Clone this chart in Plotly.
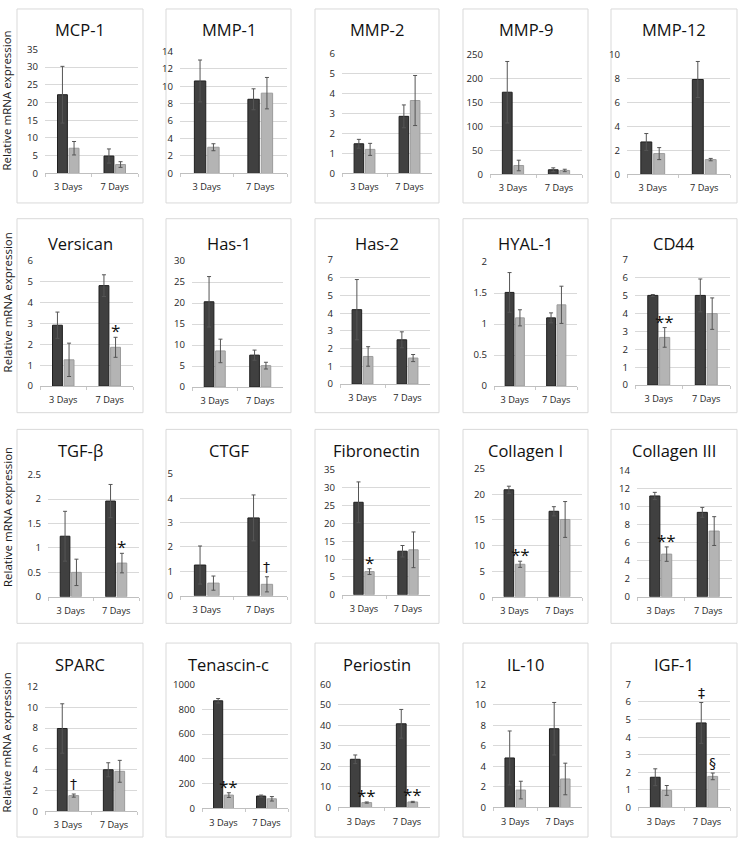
import plotly.graph_objects as go

# ---------------- data ----------------
genes = ["MCP-1", "MMP-1", "MMP-2", "MMP-9", "MMP-12",
         "Versican", "Has-1", "Has-2", "HYAL-1", "CD44",
         "TGF-β", "CTGF", "Fibronectin", "Collagen I", "Collagen III",
         "SPARC", "Tenascin-c", "Periostin", "IL-10", "IGF-1"]
days = ["3 Days", "7 Days"]

dark_mean = [
    [22.2, 4.9], [10.6, 8.5], [1.48, 2.85], [171, 9.6], [2.7, 7.9],
    [2.92, 4.82], [20.3, 7.6], [4.2, 2.5], [1.51, 1.10], [5.02, 5.02],
    [1.24, 1.96], [1.26, 3.19], [25.9, 12.2], [20.9, 16.7], [11.2, 9.38],
    [7.96, 4.0], [868, 100], [23.5, 40.8], [4.83, 7.68], [1.72, 4.81]]
dark_err = [
    [8.0, 2.0], [2.4, 1.2], [0.22, 0.57], [64, 4], [0.7, 1.5],
    [0.63, 0.52], [6.0, 1.2], [1.7, 0.45], [0.32, 0.08], [0.05, 0.92],
    [0.51, 0.34], [0.78, 0.94], [5.7, 1.6], [0.7, 0.9], [0.4, 0.55],
    [2.37, 0.67], [18, 8], [2.1, 7.0], [2.63, 2.56], [0.48, 1.16]]
light_mean = [
    [7.1, 2.5], [3.0, 9.2], [1.2, 3.64], [18.5, 8.2], [1.73, 1.23],
    [1.26, 1.86], [8.6, 5.1], [1.56, 1.47], [1.10, 1.31], [2.67, 4.0],
    [0.50, 0.69], [0.52, 0.47], [6.5, 12.6], [6.35, 15.1], [4.74, 7.3],
    [1.52, 3.85], [108, 78], [2.4, 2.7], [1.7, 2.78], [0.97, 1.77]]
light_err = [
    [1.9, 0.8], [0.4, 1.8], [0.3, 1.25], [11, 2.5], [0.5, 0.1],
    [0.8, 0.48], [2.8, 0.8], [0.55, 0.2], [0.13, 0.3], [0.55, 0.88],
    [0.27, 0.2], [0.29, 0.31], [0.8, 5.0], [0.6, 3.5], [0.8, 1.6],
    [0.15, 1.05], [19, 18], [0.3, 0.3], [0.86, 1.54], [0.28, 0.19]]
y_max = [35, 14, 6, 250, 10, 6, 30, 7, 2, 7, 2.5, 5, 35, 25, 14, 12, 1000, 60, 12, 7]
y_step = [5, 2, 1, 50, 2, 1, 5, 1, 0.5, 1, 0.5, 1, 5, 5, 2, 2, 200, 10, 2, 1]

sig_gene = ["Versican", "CD44", "TGF-β", "CTGF", "Fibronectin", "Collagen I",
            "Collagen III", "SPARC", "Tenascin-c", "Periostin", "Periostin", "IGF-1", "IGF-1"]
sig_day = ["7 Days", "3 Days", "7 Days", "7 Days", "3 Days", "3 Days",
           "3 Days", "3 Days", "3 Days", "3 Days", "7 Days", "7 Days", "7 Days"]
sig_series = ["light", "light", "light", "light", "light", "light",
              "light", "light", "light", "light", "light", "dark", "light"]
sig_text = ["*", "**", "*", "†", "*", "**", "**", "†", "**", "**", "**", "‡", "§"]

y_title = "Relative mRNA expression"

# ---------------- layout geometry (pixels) ----------------
W, H = 738, 845
plot_left = [45, 180, 342, 490, 627, 40, 192, 340, 494, 635, 48, 180, 342, 492, 637, 45, 202, 338, 493, 638]
plot_right = [138, 287, 432, 582, 730, 133, 283, 430, 577, 730, 139, 287, 430, 582, 732, 137, 288, 430, 582, 730]
plot_top = [43, 45, 47, 48, 48, 258, 258, 257, 259, 257, 475, 474, 470, 469, 471, 690, 688, 688, 688, 688]
plot_zero = [169, 169, 169, 170, 170, 385, 386, 383, 385, 384, 599, 598, 597, 599, 599, 817, 814, 813, 813, 813]
box_left = [17, 166, 315, 463, 611]
box_right = [143, 291, 439, 588, 737]
box_top = [2, 215, 429, 646]
box_bottom = [199, 412, 626, 843]
title_y = [23, 240, 450, 668]
ylabel_y = [95, 300, 518, 747]

FONT = "Open Sans"
DARK, DARK_LINE = "#404040", "#1f1f1f"
LIGHT, LIGHT_LINE = "#b4b4b4", "#9c9c9c"
ERR = "#555555"

fig = go.Figure()
layout = dict(width=W, height=H, margin=dict(l=0, r=0, t=0, b=0),
              paper_bgcolor="white", plot_bgcolor="white",
              barmode="group", bargap=0.5, bargroupgap=0.15,
              showlegend=False, font=dict(family=FONT, color="#404040"))
shapes, annotations = [], []

for r in range(4):
    for c in range(5):
        shapes.append(dict(type="rect", xref="paper", yref="paper",
                           x0=box_left[c] / W, x1=box_right[c] / W,
                           y0=1 - box_bottom[r] / H, y1=1 - box_top[r] / H,
                           line=dict(color="#d9d9d9", width=1), fillcolor="rgba(0,0,0,0)", layer="below"))
    annotations.append(dict(text=y_title, textangle=-90, xref="paper", yref="paper",
                            x=7 / W, y=1 - ylabel_y[r] / H, showarrow=False,
                            xanchor="center", yanchor="middle",
                            font=dict(size=11.5, color="#1a1a1a", family=FONT)))

for i, g in enumerate(genes):
    r, c = divmod(i, 5)
    n = "" if i == 0 else str(i + 1)
    xa, ya = "x" + n, "y" + n
    for means, errs, col, lcol, grp in [(dark_mean[i], dark_err[i], DARK, DARK_LINE, "d"),
                                        (light_mean[i], light_err[i], LIGHT, LIGHT_LINE, "l")]:
        fig.add_trace(go.Bar(x=days, y=means, xaxis=xa, yaxis=ya, offsetgroup=grp,
                             marker=dict(color=col, line=dict(color=lcol, width=1)),
                             error_y=dict(type="data", array=errs, color=ERR, thickness=1, width=2),
                             hoverinfo="skip"))
    layout["xaxis" + n] = dict(domain=[plot_left[i] / W, plot_right[i] / W], anchor=ya,
                               type="category", range=[-0.5, 1.5], showgrid=False,
                               showline=True, linecolor="#bfbfbf", linewidth=1,
                               tickson="boundaries", ticks="outside", ticklen=3,
                               tickcolor="#c8c8c8", tickwidth=1,
                               ticklabelstandoff=5,
                               tickfont=dict(size=9.2, color="#262626", family=FONT),
                               fixedrange=True)
    layout["yaxis" + n] = dict(domain=[1 - plot_zero[i] / H, 1 - plot_top[i] / H], anchor=xa,
                               range=[0, y_max[i]], dtick=y_step[i], tick0=0,
                               showgrid=True, gridcolor="#d9d9d9", gridwidth=1,
                               zeroline=False, showline=False, ticks="",
                               ticklabelstandoff=6,
                               tickfont=dict(size=9.6, color="#262626", family=FONT),
                               fixedrange=True)
    annotations.append(dict(text=g, xref="paper", yref="paper",
                            x=(box_left[c] + box_right[c]) / 2 / W, y=1 - title_y[r] / H,
                            showarrow=False, xanchor="center", yanchor="middle",
                            font=dict(size=16.5, color="#111111", family=FONT)))

for g, d, s, t in zip(sig_gene, sig_day, sig_series, sig_text):
    i = genes.index(g)
    j = days.index(d)
    n = "" if i == 0 else str(i + 1)
    if s == "dark":
        yv = dark_mean[i][j] + dark_err[i][j]
        xv = j - 0.125
    else:
        yv = light_mean[i][j] + light_err[i][j]
        xv = j + 0.125
    star = "*" in t
    annotations.append(dict(text=t, xref="x" + n, yref="y" + n, x=xv, y=yv,
                            showarrow=False, xanchor="center", yanchor="bottom",
                            yshift=-7 if star else 0,
                            font=dict(size=17 if star else 14, color="#111111",
                                      family=FONT if star else "DejaVu Sans")))

layout["shapes"] = shapes
layout["annotations"] = annotations
fig.update_layout(**layout)
fig.write_html("out.html", config={"displayModeBar": False},
               post_script="document.body.style.margin='0';document.body.style.padding='0';")
